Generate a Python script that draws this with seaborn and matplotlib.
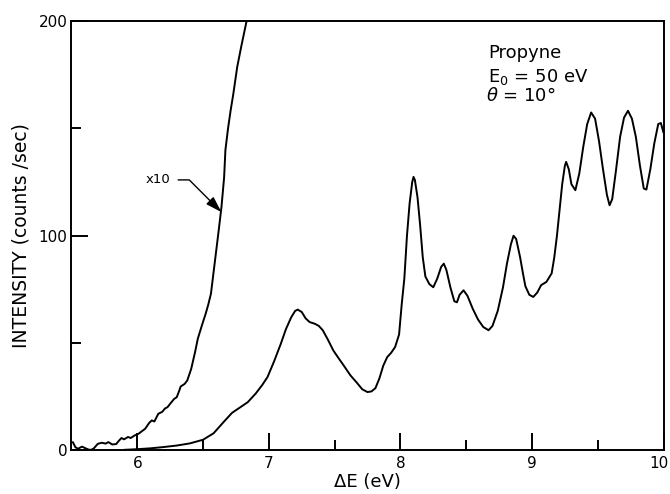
import matplotlib
matplotlib.use("Agg")
import matplotlib.pyplot as plt
import matplotlib.transforms as mtransforms
import numpy as np
import pandas as pd
import seaborn as sns

# Energy-loss spectrum of propyne (E0 = 50 eV, theta = 10 deg)
energy_ev = [
    5.90, 6.00, 6.10, 6.20, 6.30, 6.40, 6.50, 6.58, 6.66, 6.72, 6.78, 6.84,
    6.90, 6.95, 6.99, 7.04, 7.09, 7.13, 7.17, 7.20, 7.22, 7.25, 7.28, 7.31,
    7.35, 7.38, 7.41, 7.45, 7.49, 7.53, 7.57, 7.62, 7.67, 7.71, 7.75, 7.78,
    7.81, 7.84, 7.87, 7.90, 7.93, 7.96, 7.99, 8.01, 8.03, 8.05, 8.07, 8.09,
    8.10, 8.11, 8.13, 8.15, 8.17, 8.19, 8.22, 8.25, 8.28, 8.31, 8.33, 8.35,
    8.38, 8.41, 8.43, 8.45, 8.48, 8.51, 8.55, 8.59, 8.63, 8.67, 8.70, 8.74,
    8.78, 8.81, 8.84, 8.86, 8.88, 8.91, 8.93, 8.95, 8.98, 9.01, 9.04, 9.07,
    9.11, 9.15, 9.17, 9.19, 9.21, 9.23, 9.25, 9.26, 9.28, 9.30, 9.33, 9.36,
    9.39, 9.42, 9.45, 9.48, 9.51, 9.54, 9.57, 9.59, 9.61, 9.64, 9.67, 9.70,
    9.73, 9.76, 9.79, 9.82, 9.85, 9.87, 9.90, 9.93, 9.96, 9.98, 10.00,
]
intensity = [
    0.3, 0.6, 1.0, 1.6, 2.3, 3.3, 5.0, 8.0, 13.5, 17.5, 20.0, 22.5,
    26.5, 30.5, 34.2, 41.5, 49.5, 56.5, 62.0, 65.0, 65.6, 64.5, 61.5, 59.8,
    59.0, 58.0, 56.0, 51.5, 46.6, 43.0, 39.5, 35.0, 31.5, 28.5, 27.2, 27.5,
    29.0, 33.5, 39.5, 43.5, 45.5, 48.2, 54.0, 68.0, 80.0, 100.0, 115.0, 125.0,
    127.4, 126.0, 118.0, 105.0, 90.0, 81.0, 77.5, 76.0, 80.0, 85.5, 87.0, 84.0,
    76.0, 69.5, 69.0, 72.5, 74.6, 72.0, 66.0, 61.0, 57.5, 56.0, 58.0, 65.0,
    76.0, 87.0, 96.0, 100.0, 98.5, 90.0, 83.0, 76.5, 72.5, 71.5, 73.5, 77.0,
    78.5, 82.5, 90.0, 100.0, 112.0, 124.0, 132.5, 134.4, 131.0, 124.0, 121.2, 129.0,
    141.4, 152.0, 157.4, 154.5, 144.0, 131.0, 119.0, 114.2, 117.0, 131.0, 146.0, 155.0,
    158.2, 154.5, 146.0, 133.0, 122.0, 121.5, 131.0, 143.0, 152.0, 152.5, 148.0,
]

# Threshold region recorded at ten times the gain
energy_x10 = [
    5.51, 5.53, 5.55, 5.58, 5.60, 5.63, 5.65, 5.67, 5.70, 5.73, 5.76, 5.78,
    5.81, 5.84, 5.86, 5.88, 5.90, 5.93, 5.95, 5.98, 6.01, 6.04, 6.06, 6.09,
    6.11, 6.13, 6.16, 6.19, 6.21, 6.23, 6.26, 6.28, 6.30, 6.32, 6.33, 6.36,
    6.38, 6.41, 6.44, 6.46, 6.49, 6.52, 6.54, 6.56, 6.58, 6.60, 6.62, 6.64,
    6.66, 6.67, 6.69, 6.71, 6.73, 6.76, 6.79, 6.83, 6.85,
]
intensity_x10 = [
    3.9, 1.5, 0.8, 1.8, 1.2, 0.4, 0.3, 1.0, 3.1, 3.6, 3.2, 3.9,
    2.8, 3.0, 4.5, 5.8, 5.2, 6.3, 5.8, 7.0, 7.8, 9.2, 10.1, 12.8,
    14.0, 13.5, 17.1, 18.0, 19.5, 20.2, 22.5, 24.0, 24.8, 28.0, 29.8, 31.0,
    32.6, 38.0, 46.0, 52.0, 58.0, 63.7, 68.0, 73.0, 83.0, 93.0, 103.0, 113.4,
    127.0, 139.9, 150.0, 158.5, 166.0, 178.7, 188.0, 199.7, 206.0,
]

x_major = [6, 7, 8, 9, 10]
x_minor = [6.5, 7.5, 8.5, 9.5]
y_major = [0, 100, 200]
y_minor = [50, 150]

main_df = pd.DataFrame({"E": energy_ev, "I": intensity})
gain_df = pd.DataFrame({"E": energy_x10, "I": intensity_x10})

sns.set_style("ticks")
plt.rcParams["font.family"] = ["DejaVu Sans"]
plt.rcParams["text.color"] = "black"
plt.rcParams["axes.labelcolor"] = "black"
plt.rcParams["xtick.color"] = "black"
plt.rcParams["ytick.color"] = "black"

fig, ax = plt.subplots(figsize=(6.7, 4.94), dpi=100)
fig.subplots_adjust(left=0.1067, right=0.9903, top=0.9575, bottom=0.0881)

sns.lineplot(data=main_df, x="E", y="I", estimator=None, sort=False,
             color="black", linewidth=1.4, ax=ax)
sns.lineplot(data=gain_df, x="E", y="I", estimator=None, sort=False,
             color="black", linewidth=1.4, ax=ax)

ax.set_xlim(5.5, 10)
ax.set_ylim(0, 200)
ax.set_xticks(x_major)
ax.set_xticks(x_minor, minor=True)
ax.set_yticks(y_major)
ax.set_yticks(y_minor, minor=True)
ax.set_xticklabels([str(v) for v in x_major])
ax.set_yticklabels([str(v) for v in y_major])

ax.tick_params(which="both", direction="in", width=1.4, colors="black",
               labelcolor="black", top=False, right=False)
ax.tick_params(which="major", length=12)
ax.tick_params(which="minor", length=7)
ax.tick_params(axis="x", which="major", labelsize=11, pad=4)
ax.tick_params(axis="y", which="major", labelsize=11, pad=3)

# nudge the last x tick label so it stays inside the figure edge
last = ax.get_xticklabels()[-1]
last.set_transform(last.get_transform() +
                   mtransforms.ScaledTranslation(-3 / 72, 0, fig.dpi_scale_trans))

for side in ["left", "bottom", "right", "top"]:
    ax.spines[side].set_visible(True)
    ax.spines[side].set_linewidth(1.4)
    ax.spines[side].set_color("black")

ax.set_xlabel("ΔE (eV)", fontsize=13, labelpad=1.5)
ax.set_ylabel("INTENSITY (counts /sec)", fontsize=13.5, labelpad=6)

ax.text(8.665, 185, "Propyne", fontsize=13, ha="left", va="center")
ax.text(8.665, 174, r"E$_\mathregular{0}$ = 50 eV", fontsize=13,
        ha="left", va="center")
ax.text(8.65, 165, r"$\theta$ = 10°", fontsize=13, ha="left", va="center")

ax.annotate("x10", xy=(6.64, 111), xytext=(6.16, 126), fontsize=9.5,
            ha="center", va="center",
            arrowprops=dict(arrowstyle="-|>,head_length=0.7,head_width=0.22",
                            connectionstyle="angle,angleA=0,angleB=-45,rad=0",
                            color="black", linewidth=1.0, shrinkA=3,
                            shrinkB=0, mutation_scale=14))

fig.savefig("out.png", dpi=100, facecolor="white")
